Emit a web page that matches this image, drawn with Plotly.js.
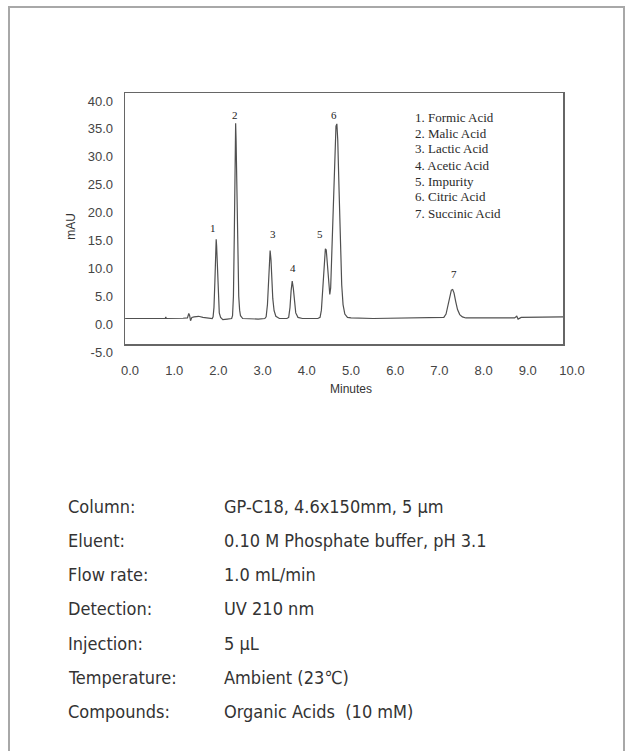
<!DOCTYPE html>
<html>
<head>
<meta charset="utf-8">
<script src="https://cdn.plot.ly/plotly-3.0.1.min.js"></script>
<style>html,body{margin:0;padding:0;background:#fff;}#chart{width:626px;height:751px;}</style>
</head>
<body>
<div id="chart"></div>
<script>
// Chromatogram trace (minutes, mAU)
const timeMin = [-0.11,0.5,0.8,0.81,0.82,1.2,1.3,1.33,1.35,1.37,1.40,1.45,1.55,1.65,1.80,1.86,
  1.88,1.90,1.92,1.94,1.95,1.96,1.98,2.00,2.02,2.05,2.10,2.20,2.30,
  2.32,2.34,2.36,2.38,2.39,2.40,2.42,2.44,2.46,2.48,2.50,2.55,2.70,2.90,3.05,
  3.08,3.11,3.13,3.15,3.17,3.19,3.21,3.23,3.26,3.30,3.38,3.55,
  3.59,3.62,3.645,3.67,3.695,3.72,3.75,3.80,3.90,4.25,
  4.30,4.33,4.36,4.39,4.42,4.44,4.47,4.50,4.52,4.54,4.57,4.60,4.63,4.66,4.68,4.70,4.73,4.76,4.79,4.82,4.86,4.92,5.0,5.5,6.0,6.5,7.0,
  7.10,7.15,7.19,7.23,7.27,7.30,7.33,7.37,7.41,7.46,7.52,7.6,8.0,8.5,8.7,8.75,8.78,8.85,9.3,9.82];
const signalMAU = [1.0,1.0,1.05,1.3,1.0,1.05,1.1,1.9,1.5,0.6,1.2,1.3,1.4,1.2,1.0,1.0,
  1.3,3.0,7.5,13.5,15.2,14.0,8.5,4.0,2.0,1.2,0.8,0.9,1.0,
  1.5,5.0,16.0,32.0,36.0,33.0,22.0,11.0,5.0,2.5,1.5,1.0,0.9,0.9,1.0,
  1.3,3.5,7.5,11.8,13.2,11.5,7.8,4.6,2.4,1.4,1.0,1.0,
  1.2,3.0,6.0,7.7,6.4,3.8,2.0,1.2,1.0,1.0,
  1.2,2.5,6.5,11.0,13.5,13.3,10.0,6.4,5.3,6.5,14.0,24.0,32.0,35.5,35.9,33.0,24.0,14.0,7.0,3.5,1.8,1.2,1.1,1.0,1.05,1.1,1.1,
  1.2,1.8,3.2,5.0,6.1,6.2,5.6,4.0,2.6,1.7,1.3,1.1,1.1,1.2,1.1,1.4,0.9,1.2,1.3,1.3];

// Axis ticks
const xTickVals = [0,1,2,3,4,5,6,7,8,9,10];
const xTickText = ["0.0","1.0","2.0","3.0","4.0","5.0","6.0","7.0","8.0","9.0","10.0"];
const yTickVals = [-5,0,5,10,15,20,25,30,35,40];
const yTickText = ["-5.0","0.0","5.0","10.0","15.0","20.0","25.0","30.0","35.0","40.0"];

// Peak labels
const peakNums = ["1","2","3","4","5","6","7"];
const peakLabelX = [1.88,2.38,3.24,3.69,4.30,4.62,7.33];
const peakLabelY = [17.2,37.5,16.2,10.1,16.2,37.5,9.0];

// Compound key
const compoundKey = ["1. Formic Acid","2. Malic Acid","3. Lactic Acid","4. Acetic Acid","5. Impurity","6. Citric Acid","7. Succinic Acid"];

// Conditions table
const condLabels = ["Column:","Eluent:","Flow rate:","Detection:","Injection:","Temperature:","Compounds:"];
const condValues = ["GP-C18, 4.6x150mm, 5 µm","0.10 M Phosphate buffer, pH 3.1","1.0 mL/min","UV 210 nm","5 µL","Ambient (23℃)","Organic Acids  (10 mM)"];

const W = 626, H = 751;
const px = v => v / W;
const py = v => 1 - v / H;

const sans = 'Liberation Sans, Arial, sans-serif';
const serif = 'Liberation Serif, Times New Roman, serif';
const narrow = 'DejaVu Sans Condensed, Liberation Sans Narrow, sans-serif';

const traces = [
  {x: timeMin, y: signalMAU, type: 'scatter', mode: 'lines', xaxis: 'x', yaxis: 'y',
   line: {color: '#505050', width: 1.2}, hoverinfo: 'skip', showlegend: false},
  {x: [], y: [], type: 'scatter', mode: 'lines', xaxis: 'x2', yaxis: 'y2', showlegend: false, hoverinfo: 'skip'}
];

const annotations = [];
peakNums.forEach((t, i) => annotations.push({
  text: t, x: peakLabelX[i], y: peakLabelY[i], xref: 'x', yref: 'y', showarrow: false,
  font: {family: serif, size: 11, color: '#222'}, xanchor: 'center', yanchor: 'middle'
}));
compoundKey.forEach((t, i) => annotations.push({
  text: t, x: px(413), y: py(117 + 16 * i), xref: 'paper', yref: 'paper', showarrow: false,
  font: {family: serif, size: 13, color: '#2a2a2a'}, xanchor: 'left', yanchor: 'middle'
}));
condLabels.forEach((t, i) => {
  const yc = 506 + 34.3 * i;
  annotations.push({text: t, x: px(66), y: py(yc), xref: 'paper', yref: 'paper', showarrow: false,
    font: {family: narrow, size: 18, color: '#333'}, xanchor: 'left', yanchor: 'middle'});
  annotations.push({text: condValues[i], x: px(222), y: py(yc), xref: 'paper', yref: 'paper', showarrow: false,
    font: {family: narrow, size: 18, color: '#333'}, xanchor: 'left', yanchor: 'middle'});
});

const layout = {
  width: W, height: H,
  margin: {l: 0, r: 0, t: 0, b: 0},
  paper_bgcolor: '#fff', plot_bgcolor: 'rgba(0,0,0,0)',
  showlegend: false,
  xaxis: {domain: [px(125), px(563)], range: [-0.113, 9.796], anchor: 'y',
    showline: true, mirror: true, linecolor: '#666', linewidth: 1.5,
    showgrid: false, zeroline: false, ticks: '', showticklabels: false, fixedrange: true},
  yaxis: {domain: [py(344), py(93)], range: [-3.57, 41.43], anchor: 'x',
    showline: true, mirror: true, linecolor: '#666', linewidth: 1.5,
    showgrid: false, zeroline: false, ticks: '', showticklabels: false, fixedrange: true},
  xaxis2: {domain: [px(130), px(572)], range: [0, 10], anchor: 'y2',
    tickmode: 'array', tickvals: xTickVals, ticktext: xTickText,
    showline: false, showgrid: false, zeroline: false, ticks: '', ticklabelstandoff: 9,
    tickfont: {family: sans, size: 13, color: '#444'},
    title: {text: 'Minutes', font: {family: sans, size: 12, color: '#333'}, standoff: 7}},
  yaxis2: {domain: [py(352), py(101)], range: [-5, 40], anchor: 'x2',
    tickmode: 'array', tickvals: yTickVals, ticktext: yTickText,
    showline: false, showgrid: false, zeroline: false, ticks: '', ticklabelstandoff: 16,
    tickfont: {family: sans, size: 13, color: '#444'},
    title: {text: 'mAU', font: {family: sans, size: 12, color: '#333'}, standoff: 9}},
  shapes: [
    {type: 'rect', xref: 'paper', yref: 'paper', x0: px(9), x1: px(624), y0: -0.02, y1: py(7),
     line: {color: '#a8a8a8', width: 2}, fillcolor: 'rgba(0,0,0,0)', layer: 'below'}
  ],
  annotations: annotations
};

Plotly.newPlot('chart', traces, layout, {displayModeBar: false, staticPlot: true});
</script>
</body>
</html>
